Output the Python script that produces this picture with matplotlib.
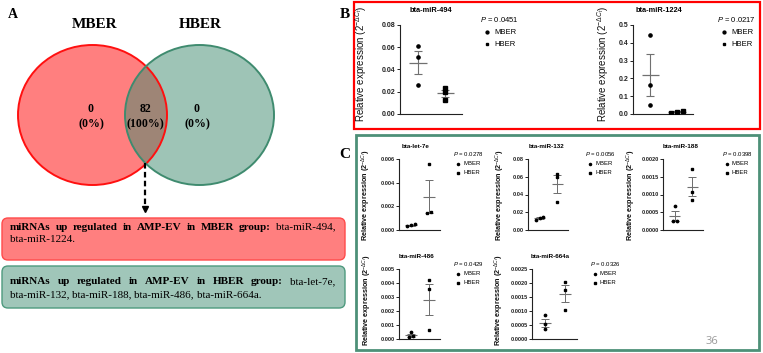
import matplotlib
matplotlib.use("Agg")
import matplotlib.pyplot as plt
import numpy as np
from matplotlib.patches import Ellipse, FancyBboxPatch, Rectangle
from matplotlib.ticker import MultipleLocator, FormatStrFormatter

plt.rcParams["mathtext.fontset"] = "custom"
plt.rcParams["mathtext.rm"] = "Liberation Sans"
plt.rcParams["mathtext.it"] = "Liberation Sans:italic"
plt.rcParams["mathtext.bf"] = "Liberation Sans:bold"

# ---------------- data ----------------
venn_sets = ["MBER", "HBER"]
venn_only_mber = 0
venn_shared = 82
venn_only_hber = 0

up_in_mber = ["bta-miR-494", "bta-miR-1224"]
up_in_hber = ["bta-let-7e", "bta-miR-132", "bta-miR-188", "bta-miR-486", "bta-miR-664a"]

groups = ["MBER", "HBER"]

mir494_mber = [0.0608, 0.0511, 0.0265]
mir494_hber = [0.0235, 0.0196, 0.0129]
mir494_p = "0.0451"

mir1224_mber = [0.442, 0.162, 0.049]
mir1224_hber = [0.015, 0.013, 0.008]
mir1224_p = "0.0217"

let7e_mber = [0.00050, 0.00040, 0.00033]
let7e_hber = [0.00555, 0.00150, 0.00140]
let7e_p = "0.0278"

mir132_mber = [0.0151, 0.0135, 0.0113]
mir132_hber = [0.0630, 0.0600, 0.0320]
mir132_p = "0.0056"

mir188_mber = [0.00069, 0.00026, 0.00024]
mir188_hber = [0.00173, 0.00108, 0.00085]
mir188_p = "0.0398"

mir486_mber = [0.00050, 0.00018, 0.00016]
mir486_hber = [0.00420, 0.00360, 0.00062]
mir486_p = "0.0429"

mir664a_mber = [0.00085, 0.00055, 0.00035]
mir664a_hber = [0.00205, 0.00175, 0.00105]
mir664a_p = "0.0326"

# ---------------- figure ----------------
W, H = 763, 353
fig = plt.figure(figsize=(W / 100, H / 100), dpi=100)
bg = fig.add_axes([0, 0, 1, 1])
bg.set_xlim(0, W)
bg.set_ylim(H, 0)
bg.axis("off")
bg.set_zorder(0)

SERIF = "Liberation Serif"
SANS = "Liberation Sans"

# ---------------- Panel A : Venn ----------------
bg.text(13, 14, "A", family=SERIF, fontweight="bold", fontsize=10, ha="center", va="center")
bg.add_patch(Ellipse((92.5, 115), 149, 140, facecolor="#FF0000", alpha=0.5, edgecolor="none"))
bg.add_patch(Ellipse((199.5, 115), 149, 140, facecolor="#3F8B6F", alpha=0.5, edgecolor="none"))
bg.add_patch(Ellipse((92.5, 115), 149, 140, facecolor="none", edgecolor="#FF1010", lw=1.4))
bg.add_patch(Ellipse((199.5, 115), 149, 140, facecolor="none", edgecolor="#3F8B6F", lw=1.4))
bg.text(95, 24, venn_sets[0], family=SERIF, fontweight="bold", fontsize=11, ha="center", va="center")
bg.text(200, 24, venn_sets[1], family=SERIF, fontweight="bold", fontsize=11, ha="center", va="center")

total = venn_only_mber + venn_shared + venn_only_hber
for cx, val in [(91, venn_only_mber), (145, venn_shared), (197, venn_only_hber)]:
    pct = 100 * val / total
    bg.text(cx, 109, f"{val}", family=SERIF, fontweight="bold", fontsize=8.5, ha="center", va="center")
    bg.text(cx, 124, f"({pct:.0f}%)", family=SERIF, fontweight="bold", fontsize=8.5, ha="center", va="center")

# dashed arrow
bg.plot([145, 145], [163, 206], color="black", lw=1.6, ls=(0, (2.5, 1.5)))
bg.plot([145], [209], marker="v", color="black", ms=5)

# boxes
bg.add_patch(FancyBboxPatch((2, 218), 343, 42, boxstyle="round,pad=0,rounding_size=6",
                            facecolor="#FF7F7F", edgecolor="#FF4A4A", lw=1.0))
bg.add_patch(FancyBboxPatch((2, 266), 343, 42, boxstyle="round,pad=0,rounding_size=6",
                            facecolor="#A0C6B9", edgecolor="#4E9A7E", lw=1.0))

renderer = fig.canvas.get_renderer()
BOX_FS = 8


def place_line(words, y, x0, x1, justify=True):
    texts, widths = [], []
    for w, wt in words:
        t = bg.text(0, y, w, family=SERIF, fontweight=wt, fontsize=BOX_FS, ha="left", va="center")
        widths.append(t.get_window_extent(renderer=renderer).width)
        texts.append(t)
    if justify and len(words) > 1:
        gap = (x1 - x0 - sum(widths)) / (len(words) - 1)
    else:
        gap = BOX_FS * 0.35
    x = x0
    for t, w in zip(texts, widths):
        t.set_x(x)
        x += w + gap


def header(group):
    return [(w, "bold") for w in ["miRNAs", "up", "regulated", "in", "AMP-EV", "in", group, "group:"]]


place_line(header("MBER") + [(up_in_mber[0] + ",", "normal")], 227, 10, 335)
place_line([(", ".join(up_in_mber[1:]) + ".", "normal")], 240, 10, 335, justify=False)
place_line(header("HBER") + [(up_in_hber[0] + ",", "normal")], 282, 10, 335)
place_line([(w + ("," if i < len(up_in_hber) - 2 else "."), "normal")
            for i, w in enumerate(up_in_hber[1:])], 295, 10, 335, justify=False)

# ---------------- Panels B / C frames ----------------
bg.add_patch(Rectangle((354, 1.5), 406, 127.5, facecolor="none", edgecolor="#FF0000", lw=1.6))
bg.add_patch(Rectangle((355.5, 135), 403.5, 215, facecolor="none", edgecolor="#4D9078", lw=2.0))
bg.text(345, 15, "B", family=SERIF, fontweight="bold", fontsize=11, ha="center", va="center")
bg.text(345, 155, "C", family=SERIF, fontweight="bold", fontsize=11, ha="center", va="center")
bg.text(712, 342, "36", family="Open Sans", fontsize=8, color="#9A9A9A", ha="center", va="center")


def px_axes(left, top, right, bottom):
    ax = fig.add_axes([left / W, 1 - bottom / H, (right - left) / W, (bottom - top) / H])
    ax.patch.set_alpha(0)
    ax.set_zorder(2)
    return ax


def swarm(vals, ymax, d):
    vals = np.asarray(vals)
    order = np.argsort(vals)
    offs = np.zeros(len(vals))
    thr = 0.035 * ymax
    clusters, cur = [], [order[0]]
    for a, b in zip(order[:-1], order[1:]):
        if vals[b] - vals[a] < thr:
            cur.append(b)
        else:
            clusters.append(cur)
            cur = [b]
    clusters.append(cur)
    for cl in clusters:
        n = len(cl)
        for k, idx in enumerate(cl):
            offs[idx] = (k - (n - 1) / 2) * d
    return offs


def dot_plot(box, mber, hber, ymax, step, fmt, title, title_xy, ylab_xy, p, leg,
             small=False):
    left, top, right, bottom = box
    ax = px_axes(left, top, right, bottom)
    ms = 1.7 if small else 2.3
    lw = 0.8 if small else 0.9
    tick_fs = 4.1 if small else 5.0
    gray = "#707070"
    for i, (vals, mk) in enumerate([(mber, "o"), (hber, "s")]):
        x0 = i + 1
        vals = np.asarray(vals, float)
        offs = swarm(vals, ymax, 0.22)
        ax.plot(x0 + offs, vals, ls="none", marker=mk, ms=ms, color="black", zorder=3)
        m = vals.mean()
        sem = vals.std(ddof=1) / np.sqrt(len(vals))
        ax.hlines(m, x0 - 0.32, x0 + 0.32, color=gray, lw=lw, zorder=2)
        ax.errorbar(x0, m, yerr=sem, color=gray, lw=lw * 0.9, capsize=2.6 if small else 3.2,
                    capthick=lw * 0.9, zorder=2)
    ax.set_ylim(0, ymax)
    ax.set_xlim(0.35, 2.6)
    ax.set_xticks([])
    ax.yaxis.set_major_locator(MultipleLocator(step))
    ax.yaxis.set_major_formatter(FormatStrFormatter(fmt))
    for s in ("top", "right"):
        ax.spines[s].set_visible(False)
    for s in ("left", "bottom"):
        ax.spines[s].set_linewidth(0.8)
        ax.spines[s].set_color("#222222")
    ax.tick_params(axis="y", length=2, width=0.7, pad=1.2, labelsize=tick_fs, colors="#222222")
    for lab in ax.get_yticklabels():
        lab.set_family(SANS)
        lab.set_fontweight("bold")
    ylab_fs = 5.2 if small else 7
    ax.set_ylabel(r"Relative expression (2$^{-\Delta C_t}$)", family=SANS,
                  fontweight="bold" if small else "normal", fontsize=ylab_fs, color="#111111")
    ax.yaxis.set_label_coords(ylab_xy[0], ylab_xy[1], transform=bg.transData)
    bg.text(title_xy[0], title_xy[1], title, family=SANS, fontweight="bold",
            fontsize=4.5 if small else 5.3, ha="center", va="center")
    # legend-like annotation
    lx, ly, dy = leg
    lfs = 4.3 if small else 5.5
    bg.text(lx, ly, r"$\it{P}$ = " + p, family=SANS, fontsize=lfs, ha="left", va="center")
    mx = lx + (5 if small else 7)
    tx = lx + (10 if small else 14)
    for j, (g, mk) in enumerate(zip(groups, ["o", "s"])):
        yy = ly + dy * (j + 1)
        bg.plot([mx], [yy], marker=mk, ms=ms * 0.9, color="black", ls="none")
        bg.text(tx, yy, g, family=SANS, fontsize=lfs, ha="left", va="center")
    return ax


# Panel B
dot_plot((400, 25, 462, 114), mir494_mber, mir494_hber, 0.08, 0.02, "%.2f",
         "bta-miR-494", (431, 11), (369, 64), mir494_p, (480, 20, 12))
dot_plot((633, 25, 693, 114), mir1224_mber, mir1224_hber, 0.5, 0.1, "%.1f",
         "bta-miR-1224", (659, 11), (611, 64), mir1224_p, (717, 20, 12))

# Panel C
dot_plot((399, 159, 440, 230), let7e_mber, let7e_hber, 0.006, 0.002, "%.3f",
         "bta-let-7e", (416, 147), (373, 195), let7e_p, (453, 154, 9.5), small=True)
dot_plot((528, 159, 568, 230), mir132_mber, mir132_hber, 0.08, 0.02, "%.2f",
         "bta-miR-132", (547, 147), (507, 195), mir132_p, (585, 154, 9.5), small=True)
dot_plot((663, 159, 703, 230), mir188_mber, mir188_hber, 0.002, 0.0005, "%.4f",
         "bta-miR-188", (681, 147), (638, 195), mir188_p, (722, 154, 9.5), small=True)
dot_plot((399, 269, 440, 339), mir486_mber, mir486_hber, 0.005, 0.001, "%.3f",
         "bta-miR-486", (417, 257), (374, 300), mir486_p, (453, 264, 9.5), small=True)
dot_plot((532, 269, 577, 339), mir664a_mber, mir664a_hber, 0.0025, 0.0005, "%.4f",
         "bta-miR-664a", (550, 257), (506, 300), mir664a_p, (590, 264, 9.5), small=True)

fig.savefig("out.png", dpi=100)
